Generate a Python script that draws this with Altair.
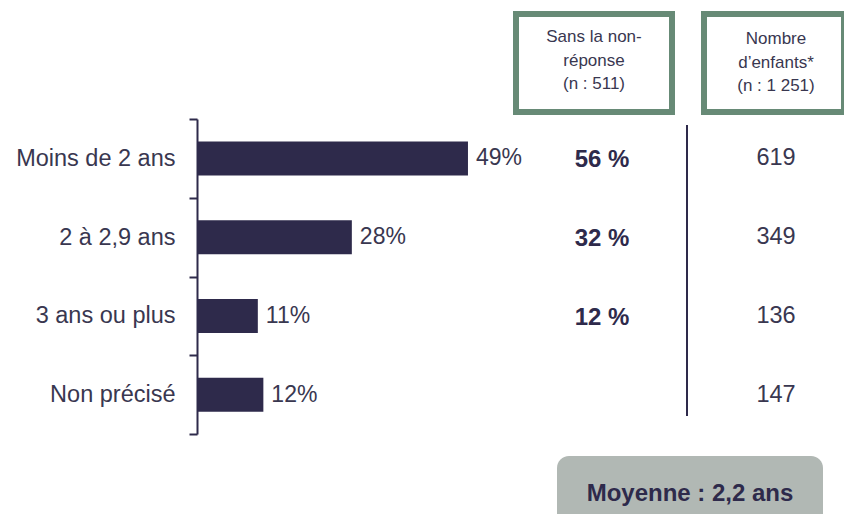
import altair as alt
import pandas as pd

# ---- data ----
categories = ["Moins de 2 ans", "2 à 2,9 ans", "3 ans ou plus", "Non précisé"]
pct = [49, 28, 11, 12]                 # % of respondents
pct_sans_nr = [56, 32, 12, None]       # % without non-response (n : 511)
nb_enfants = [619, 349, 136, 147]      # number of children (n : 1 251)

header_left = "Sans la non-\nréponse\n(n : 511)"
header_right = "Nombre\nd’enfants*\n(n : 1 251)"
moyenne = "Moyenne : 2,2 ans"

df = pd.DataFrame({
    "cat": categories,
    "pct": pct,
    "sans": pct_sans_nr,
    "nb": nb_enfants,
})

FONT = "Liberation Sans"
NAVY = "#2e2a4b"
TXT = "#393750"
GREEN = "#678a76"
GREY = "#b1b8b4"

y_enc = alt.Y(
    "cat:N",
    sort=categories,
    scale=alt.Scale(paddingInner=0, paddingOuter=0),
    axis=alt.Axis(
        title=None,
        tickBand="extent",
        domainColor=NAVY,
        domainWidth=2,
        tickColor=NAVY,
        tickWidth=2,
        tickSize=8,
        labelFont=FONT,
        labelFontSize=23.5,
        labelColor=TXT,
        labelPadding=14,
    ),
)

base = alt.Chart(df)

bars = base.mark_bar(color=NAVY, height=34).encode(
    x=alt.X("pct:Q", scale=alt.Scale(domain=[0, 100]), axis=None),
    y=y_enc,
)

bar_labels = base.transform_calculate(
    lab="datum.pct + '%'"
).mark_text(align="left", baseline="middle", dx=8, font=FONT, fontSize=23, color=TXT).encode(
    x=alt.X("pct:Q"),
    y=alt.Y("cat:N", sort=categories),
    text="lab:N",
)

mid_col = base.transform_filter("datum.sans != null").transform_calculate(
    lab="datum.sans + ' %'"
).mark_text(align="center", baseline="middle", dy=2, font=FONT, fontSize=24,
            fontWeight="bold", color=NAVY).encode(
    x=alt.value(405),
    y=alt.Y("cat:N", sort=categories),
    text="lab:N",
)

right_col = base.mark_text(align="center", baseline="middle", dy=0, font=FONT,
                           fontSize=23.5, color=TXT).encode(
    x=alt.value(579),
    y=alt.Y("cat:N", sort=categories),
    text="nb:Q",
)

one = pd.DataFrame({"k": [0]})

separator = alt.Chart(one).mark_rule(color=NAVY, strokeWidth=2).encode(
    x=alt.value(490), y=alt.value(6), y2=alt.value(297)
)

box1 = alt.Chart(one).mark_rect(fill="white", stroke=GREEN, strokeWidth=6).encode(
    x=alt.value(319), x2=alt.value(475), y=alt.value(-105), y2=alt.value(-7)
)
box2 = alt.Chart(one).mark_rect(fill="white", stroke=GREEN, strokeWidth=6).encode(
    x=alt.value(507), x2=alt.value(647), y=alt.value(-105), y2=alt.value(-7)
)

hdr1 = alt.Chart(pd.DataFrame({"t": [header_left]})).mark_text(
    align="center", baseline="middle", lineBreak="\n", lineHeight=23.5,
    font=FONT, fontSize=17, color=TXT
).encode(x=alt.value(397), y=alt.value(-82), text="t:N")

hdr2 = alt.Chart(pd.DataFrame({"t": [header_right]})).mark_text(
    align="center", baseline="middle", lineBreak="\n", lineHeight=23.5,
    font=FONT, fontSize=17, color=TXT
).encode(x=alt.value(579), y=alt.value(-80), text="t:N")

moy_box = alt.Chart(one).mark_rect(fill=GREY, cornerRadius=12).encode(
    x=alt.value(360), x2=alt.value(626), y=alt.value(337), y2=alt.value(430)
)
moy_txt = alt.Chart(pd.DataFrame({"t": [moyenne]})).mark_text(
    align="center", baseline="middle", font=FONT, fontSize=24,
    fontWeight="bold", color=NAVY
).encode(x=alt.value(493), y=alt.value(375), text="t:N")

chart = alt.layer(
    separator, box1, box2, hdr1, hdr2, moy_box, moy_txt,
    bars, bar_labels, mid_col, right_col,
).properties(
    width=553,
    height=315,
    autosize=alt.AutoSizeParams(type="none"),
    padding={"left": 189, "top": 111, "right": 94, "bottom": 80},
    background="white",
).configure_view(stroke=None)

chart.save("out.html", embed_options={"renderer": "svg", "actions": False})
